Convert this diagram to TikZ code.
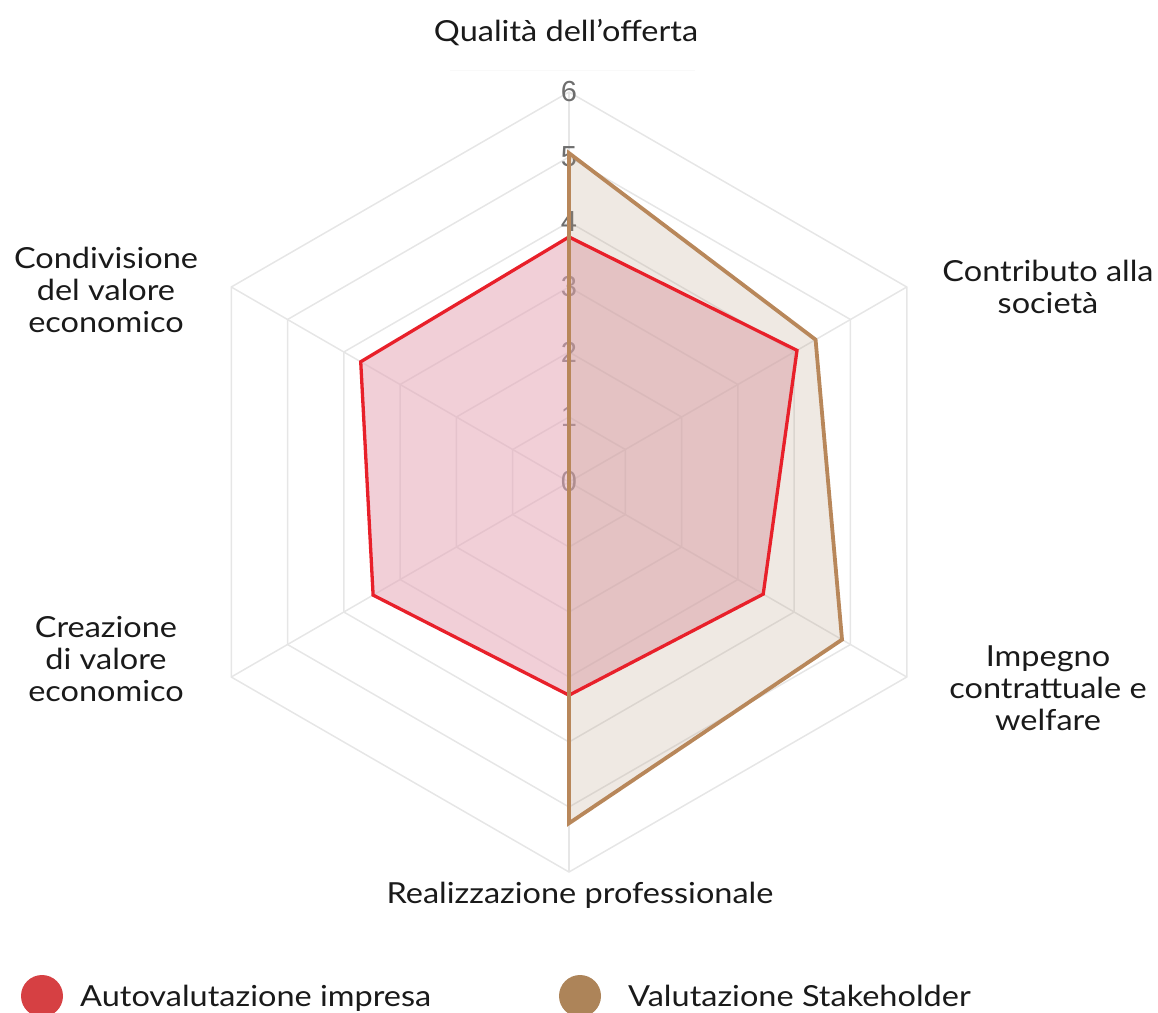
\documentclass[tikz,border=0pt]{standalone}
\usepackage{fontspec}
\setmainfont[FakeStretch=1.12]{Lato}
\newfontfamily\tickfont{Liberation Sans}
\definecolor{gridc}{HTML}{E6E6E6}
\definecolor{tickc}{HTML}{6E6E6E}
\definecolor{redline}{HTML}{E8202A}
\definecolor{redfill}{RGB}{229,167,183}
\definecolor{brownline}{HTML}{B8875A}
\definecolor{brownfill}{RGB}{175,145,115}
\definecolor{legred}{HTML}{D64043}
\definecolor{legbrown}{HTML}{AD8459}
\definecolor{textc}{HTML}{1A1A1A}
\tikzset{
  gridline/.style={draw=gridc, line width=1.5pt},
  ticklabel/.style={font=\tickfont\fontsize{29}{29}\selectfont, text=tickc, inner sep=0pt},
  axislabel/.style={font=\fontsize{29}{32}\selectfont, text=textc, align=center, inner sep=0pt},
  legtext/.style={font=\fontsize{29}{32}\selectfont, text=textc, anchor=base west, inner sep=0pt},
  redpoly/.style={draw=redline, line width=3.3pt},
  brownpoly/.style={draw=brownline, line width=3.8pt},
}
\begin{document}
\begin{tikzpicture}[x=1pt,y=-1pt]
\useasboundingbox (0,0) rectangle (1158,1012);
\draw[draw=gray!5, line width=1pt] (450,70) -- (695,70);
\begin{scope}[shift={(569,482)}]
  \foreach \k in {1,...,6}{
    \draw[gridline] (-90:{\k*65}) -- (-30:{\k*65}) -- (30:{\k*65}) -- (90:{\k*65}) -- (150:{\k*65}) -- (210:{\k*65}) -- cycle;
  }
  \foreach \a in {-90,-30,30,90,150,210}{
    \draw[gridline] (0,0) -- (\a:390);
  }
  \foreach \k in {0,...,6}{
    \node[ticklabel] (t\k) at (0,{-\k*65}) {\k};
  }
  % Autovalutazione impresa
  \coordinate (r1) at (-90:{3.77*65});
  \coordinate (r2) at (-30:{4.05*65});
  \coordinate (r3) at (30:{3.45*65});
  \coordinate (r4) at (90:{3.28*65});
  \coordinate (r5) at (150:{3.48*65});
  \coordinate (r6) at (210:{3.70*65});
  % Valutazione Stakeholder
  \coordinate (s1) at (-90:{5.06*65});
  \coordinate (s2) at (-30:{4.38*65});
  \coordinate (s3) at (30:{4.85*65});
  \coordinate (s4) at (90:{5.25*65});
  \coordinate (s0) at (0,0);
  \fill[redfill, opacity=0.55] (r1) -- (r2) -- (r3) -- (r4) -- (r5) -- (r6) -- cycle;
  \fill[brownfill, opacity=0.2] (s1) -- (s2) -- (s3) -- (s4) -- (s0) -- cycle;
  \draw[redpoly] (r1) -- (r2) -- (r3) -- (r4) -- (r5) -- (r6) -- cycle;
  \draw[brownpoly] (s1) -- (s2) -- (s3) -- (s4) -- (s0) -- cycle;
\end{scope}
\node[axislabel] (qual) at (566,33) {Qualità dell’offerta};
\node[axislabel] (cond) at (106,290) {Condivisione\\del valore\\economico};
\node[axislabel] (contr) at (1048,287) {Contributo alla\\società};
\node[axislabel] (imp) at (1048,688) {Impegno\\contrattuale e\\welfare};
\node[axislabel] (crea) at (106,659) {Creazione\\di valore\\economico};
\node[axislabel] (real) at (580,895) {Realizzazione professionale};
\fill[legred] (42,996) circle (21);
\node[legtext] (l1) at (80,1006) {Autovalutazione impresa};
\fill[legbrown] (580,996) circle (21);
\node[legtext] (l2) at (628,1006) {Valutazione Stakeholder};
\end{tikzpicture}
\end{document}
